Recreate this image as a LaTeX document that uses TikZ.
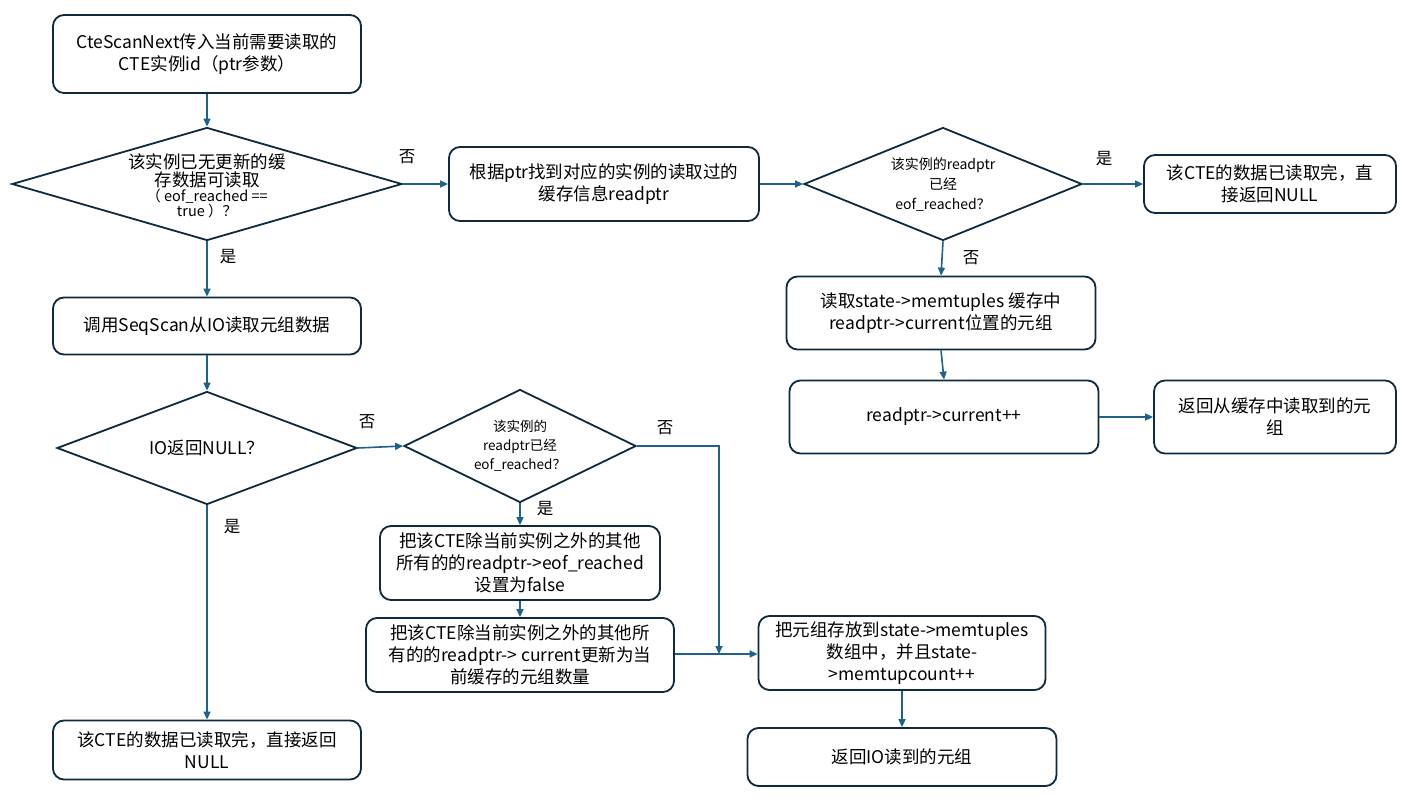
\documentclass[tikz,border=0pt]{standalone}
\usepackage{fontspec}
\setmainfont{Noto Sans CJK SC}
\usetikzlibrary{shapes.geometric,arrows.meta}
\definecolor{navy}{HTML}{0E2A3C}
\definecolor{flow}{HTML}{1F6187}
\tikzset{
  box/.style={draw=navy,line width=1.8pt,rounded corners=11pt,fill=white,align=center,inner sep=2pt,font=\fontsize{17.5}{22}\selectfont},
  dia/.style={draw=navy,line width=1.8pt,shape=diamond,inner sep=0pt,fill=white},
  dtext/.style={align=center,inner sep=0pt},
  arr/.style={draw=flow,line width=1.6pt,-{Triangle[length=8pt,width=7pt]}},
  ln/.style={draw=flow,line width=1.6pt},
  lbl/.style={font=\fontsize{16.5}{18}\selectfont,inner sep=0pt}
}
\begin{document}
\begin{tikzpicture}[x=1pt,y=-1pt]
\useasboundingbox[fill=white] (0,0) rectangle (1405,802);
% boxes
\node[box,minimum width=308pt,minimum height=78pt] (a) at (207,54) {CteScanNext传入当前需要读取的\\CTE实例id（ptr参数）};
\node[box,minimum width=310pt,minimum height=74pt] (b) at (604,184) {根据ptr找到对应的实例的读取过的\\缓存信息readptr};
\node[box,minimum width=252pt,minimum height=58pt] (c) at (1270,184) {该CTE的数据已读取完，直\\接返回NULL};
\node[box,minimum width=309pt,minimum height=73pt] (e) at (941,313) {读取state->memtuples 缓存中\\readptr->current位置的元组};
\node[box,minimum width=309pt,minimum height=73pt] (f) at (944,417) {readptr->current++};
\node[box,minimum width=242pt,minimum height=73pt] (g) at (1275,417) {返回从缓存中读取到的元\\组};
\node[box,minimum width=308pt,minimum height=57pt] (h) at (207,326) {调用SeqScan从IO读取元组数据};
\node[box,minimum width=280pt,minimum height=74pt] (i) at (520,563) {把该CTE除当前实例之外的其他\\所有的的readptr->eof\_reached\\设置为false};
\node[box,minimum width=308pt,minimum height=74pt] (j) at (520,655) {把该CTE除当前实例之外的其他所\\有的的readptr-> current更新为当\\前缓存的元组数量};
\node[box,minimum width=287pt,minimum height=74pt] (k) at (902,653) {把元组存放到state->memtuples\\数组中，并且state-\\>memtupcount++};
\node[box,minimum width=309pt,minimum height=58pt] (l) at (902,757) {返回IO读到的元组};
\node[box,minimum width=308pt,minimum height=59pt] (m) at (207,750) {该CTE的数据已读取完，直接返回\\NULL};
% diamonds
\node[dia,minimum width=390pt,minimum height=113pt] (d1) at (207,184) {};
\node[dtext] at (207,186) {\fontsize{17.5}{22}\selectfont 该实例已无更新的缓\\\fontsize{17.5}{22}\selectfont 存数据可读取\\\fontsize{14.5}{19}\selectfont （ eof\_reached ==\\\fontsize{14.5}{19}\selectfont true ）？};
\node[dia,minimum width=278pt,minimum height=113pt] (d2) at (943,184) {};
\node[dtext,font=\fontsize{14}{20}\selectfont] at (943,185) {该实例的readptr\\已经\\eof\_reached？};
\node[dia,minimum width=300pt,minimum height=113pt] (d3) at (207,448) {};
\node[dtext,font=\fontsize{17.5}{20}\selectfont] at (207,448) {IO返回NULL？};
\node[dia,minimum width=232pt,minimum height=113pt] (d4) at (520,446) {};
\node[dtext,font=\fontsize{13.5}{19}\selectfont] at (520,446) {该实例的\\readptr已经\\eof\_reached？};
% connectors
\coordinate (jn) at (719,654);
\coordinate (bend) at (719,446);
\draw[arr] (a) -- (d1);
\draw[arr] (d1.east) -- (b.west);
\draw[arr] (b.east) -- (d2.west);
\draw[arr] (d2.east) -- (c.west);
\draw[arr] (d2.south) -- (e.north);
\draw[arr] (e.south) -- (f.north);
\draw[arr] (f.east) -- (g.west);
\draw[arr] (d1.south) -- (h.north);
\draw[arr] (h.south) -- (d3.north);
\draw[arr] (d3.east) -- (d4.west);
\draw[arr] (d3.south) -- (m.north);
\draw[arr] (d4.south) -- (i.north);
\draw[arr] (i.south) -- (j.north);
\draw[arr] (j.east |- jn) -- (k.west |- jn);
\draw[arr] (k.south) -- (l.north);
\draw[arr] (d4.east) -- (bend) -- (jn);
% labels
\node[lbl] (l1) at (407,157) {否};
\node[lbl] (l2) at (1104,159) {是};
\node[lbl] (l3) at (971,258) {否};
\node[lbl] (l4) at (228,257) {是};
\node[lbl] (l5) at (367,422) {否};
\node[lbl] (l6) at (665,428) {否};
\node[lbl] (l7) at (545,509) {是};
\node[lbl] (l8) at (232,527) {是};
\end{tikzpicture}
\end{document}
